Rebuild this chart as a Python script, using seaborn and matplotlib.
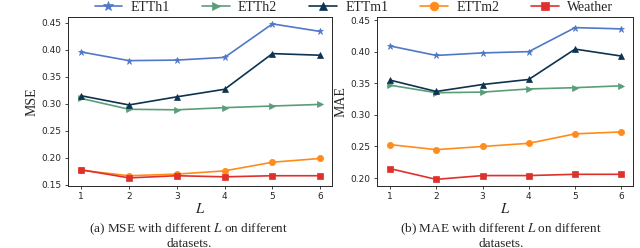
import numpy as np
import pandas as pd
import matplotlib
matplotlib.use('Agg')
import matplotlib.pyplot as plt
import seaborn as sns

L_VALUES = [1, 2, 3, 4, 5, 6]
DATASETS = ["ETTh1", "ETTh2", "ETTm1", "ETTm2", "Weather"]

MSE_ETTh1   = [0.396, 0.380, 0.381, 0.386, 0.448, 0.434]
MSE_ETTh2   = [0.310, 0.290, 0.289, 0.293, 0.296, 0.299]
MSE_ETTm1   = [0.315, 0.298, 0.313, 0.327, 0.393, 0.390]
MSE_ETTm2   = [0.177, 0.167, 0.170, 0.176, 0.192, 0.199]
MSE_Weather = [0.178, 0.163, 0.167, 0.165, 0.167, 0.167]

MAE_ETTh1   = [0.409, 0.394, 0.398, 0.400, 0.438, 0.436]
MAE_ETTh2   = [0.347, 0.335, 0.336, 0.341, 0.343, 0.346]
MAE_ETTm1   = [0.355, 0.337, 0.348, 0.356, 0.404, 0.393]
MAE_ETTm2   = [0.253, 0.245, 0.250, 0.255, 0.270, 0.273]
MAE_Weather = [0.215, 0.198, 0.204, 0.204, 0.206, 0.206]

COLORS  = {"ETTh1": "#5078c8", "ETTh2": "#5a9e78", "ETTm1": "#0d3350",
           "ETTm2": "#ff8c1a", "Weather": "#e0302c"}
MARKERS = {"ETTh1": "*", "ETTh2": ">", "ETTm1": "^", "ETTm2": "o", "Weather": "s"}
MSIZE   = {"ETTh1": 5, "ETTh2": 4.5, "ETTm1": 4.5, "ETTm2": 4.5, "Weather": 4.5}

mse = {"ETTh1": MSE_ETTh1, "ETTh2": MSE_ETTh2, "ETTm1": MSE_ETTm1,
       "ETTm2": MSE_ETTm2, "Weather": MSE_Weather}
mae = {"ETTh1": MAE_ETTh1, "ETTh2": MAE_ETTh2, "ETTm1": MAE_ETTm1,
       "ETTm2": MAE_ETTm2, "Weather": MAE_Weather}

sns.set_theme(style="ticks")
plt.rcParams["mathtext.fontset"] = "stix"
plt.rcParams["font.family"] = ["DejaVu Sans"]

SERIF = "Liberation Serif"

fig = plt.figure(figsize=(6.4, 2.48), dpi=100)
ax1 = fig.add_axes([0.106, 0.25, 0.413, 0.682])
ax2 = fig.add_axes([0.589, 0.25, 0.400, 0.682])

def draw(ax, data, ylabel, ylim, yticks):
    for name in DATASETS:
        df = pd.DataFrame({"L": L_VALUES, "v": data[name]})
        sns.lineplot(data=df, x="L", y="v", ax=ax, color=COLORS[name],
                     marker=MARKERS[name], markersize=MSIZE[name],
                     markeredgewidth=0.5, markeredgecolor=COLORS[name],
                     linewidth=1.2, label=name, legend=False)
    ax.set_xlim(0.72, 6.25)
    ax.set_ylim(*ylim)
    ax.set_xticks(L_VALUES)
    ax.set_yticks(yticks)
    ax.set_yticklabels(["%.2f" % t for t in yticks])
    ax.tick_params(labelsize=6.5, length=2.5, width=0.6, pad=2)
    for s in ax.spines.values():
        s.set_linewidth(0.7)
    ax.set_xlabel("$L$", fontsize=10.5, labelpad=0)
    ax.set_ylabel(ylabel, fontsize=10, family=SERIF, labelpad=2)

draw(ax1, mse, "MSE", (0.148, 0.461), [0.15, 0.20, 0.25, 0.30, 0.35, 0.40, 0.45])
draw(ax2, mae, "MAE", (0.1875, 0.455), [0.20, 0.25, 0.30, 0.35, 0.40, 0.45])

handles, labels = ax1.get_legend_handles_labels()
leg = fig.legend(handles, labels, loc="center", ncol=5, bbox_to_anchor=(0.553, 0.97),
                 frameon=False, prop={"family": SERIF, "size": 10},
                 handlelength=2.0, columnspacing=2.3, handletextpad=0.6,
                 markerscale=1.4, borderpad=0)

fig.text(0.295, 0.077, "(a) MSE with different $L$ on different", ha="center",
         va="center", fontsize=9.5, family=SERIF)
fig.text(0.295, 0.018, "datasets.", ha="center", va="center", fontsize=9.5, family=SERIF)
fig.text(0.783, 0.077, "(b) MAE with different $L$ on different", ha="center",
         va="center", fontsize=9.5, family=SERIF)
fig.text(0.783, 0.018, "datasets.", ha="center", va="center", fontsize=9.5, family=SERIF)

fig.savefig("out.png", dpi=100)
